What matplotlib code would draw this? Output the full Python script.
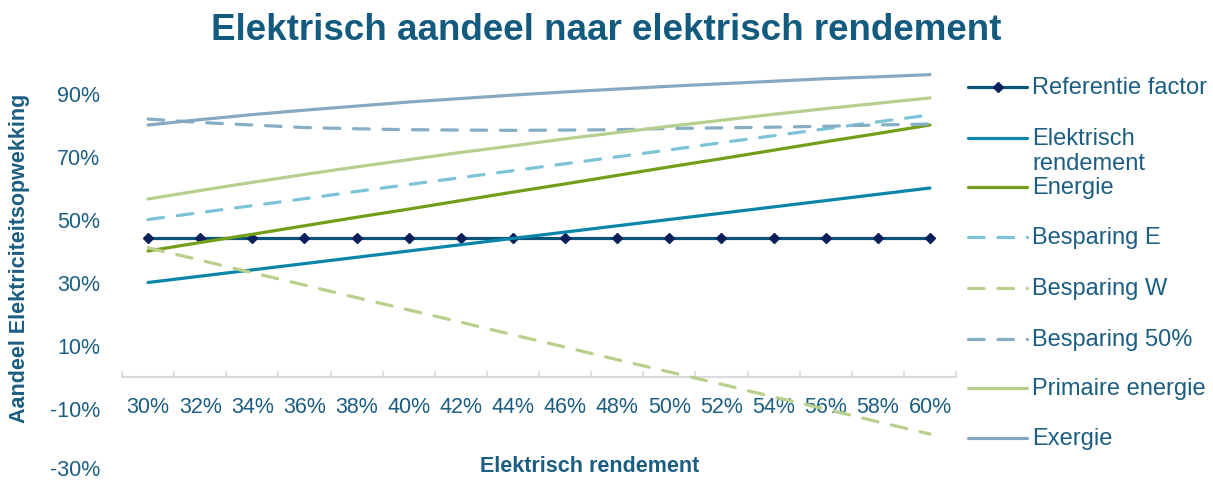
import matplotlib
matplotlib.use("Agg")
import matplotlib.pyplot as plt
import matplotlib.transforms as mtransforms
from matplotlib.lines import Line2D

# ---- data ----
categories = ["30%", "32%", "34%", "36%", "38%", "40%", "42%", "44%",
              "46%", "48%", "50%", "52%", "54%", "56%", "58%", "60%"]
referentie_factor = [44] * 16
elektrisch_rendement = [30, 32, 34, 36, 38, 40, 42, 44, 46, 48, 50, 52, 54, 56, 58, 60]
energie = [40.0, 42.7, 45.3, 48.0, 50.7, 53.3, 56.0, 58.7, 61.3, 64.0, 66.7, 69.3, 72.0, 74.7, 77.3, 80.0]
besparing_e = [50.0, 52.2, 54.4, 56.6, 58.9, 61.1, 63.3, 65.5, 67.7, 69.9, 72.1, 74.4, 76.6, 78.8, 81.0, 83.2]
besparing_w = [41.0, 37.1, 33.1, 29.2, 25.2, 21.3, 17.4, 13.4, 9.5, 5.5, 1.6, -2.3, -6.3, -10.2, -14.2, -18.1]
besparing_50 = [81.9, 80.8, 80.0, 79.2, 78.8, 78.5, 78.4, 78.3, 78.4, 78.5, 78.9, 79.1, 79.3, 79.6, 80.0, 80.3]
primaire_energie = [56.5, 59.2, 61.8, 64.3, 66.7, 69.0, 71.3, 73.4, 75.6, 77.6, 79.6, 81.5, 83.4, 85.2, 86.9, 88.6]
exergie = [80.0, 81.7, 83.3, 84.7, 86.0, 87.3, 88.4, 89.5, 90.5, 91.4, 92.3, 93.1, 93.9, 94.7, 95.3, 96.0]
yticks = [-30, -10, 10, 30, 50, 70, 90]

series = [
    ("Referentie factor", referentie_factor, "#0B5479", "-"),
    ("Elektrisch\nrendement", elektrisch_rendement, "#0A86A8", "-"),
    ("Energie", energie, "#739E1A", "-"),
    ("Besparing E", besparing_e, "#7CC3D8", "--"),
    ("Besparing W", besparing_w, "#B8D08C", "--"),
    ("Besparing 50%", besparing_50, "#85AEC5", "--"),
    ("Primaire energie", primaire_energie, "#B6CF8E", "-"),
    ("Exergie", exergie, "#86A9C1", "-"),
]

TXT = "#1B5E82"
TITLE = "#135A7F"
plt.rcParams["font.family"] = ["Liberation Sans", "DejaVu Sans"]

W, H = 1213, 481
fig = plt.figure(figsize=(W / 100, H / 100), dpi=100)
ax = fig.add_axes([122 / W, (H - 472.5) / H, (956 - 122) / W, (472.5 - 63) / H])

x = list(range(len(categories)))
DASH = (0, (4.9, 4.3))
for i, (name, vals, col, ls) in enumerate(series):
    kw = dict(color=col, lw=2.3, solid_capstyle="round", dash_capstyle="round", zorder=2 + i)
    if ls == "--":
        kw["linestyle"] = DASH
    if i == 0:
        kw.update(marker="D", markersize=5.5, markerfacecolor="#0A1F5C", markeredgecolor="#0A1F5C")
    ax.plot(x, vals, **kw)

ax.set_xlim(-0.5, len(categories) - 0.5)
ax.set_ylim(-30, 100)

for s in ["top", "right", "left"]:
    ax.spines[s].set_visible(False)
ax.spines["bottom"].set_position(("data", 0))
ax.spines["bottom"].set_color("#D9D9D9")
ax.spines["bottom"].set_linewidth(1.5)

ax.set_xticks([i - 0.5 for i in range(len(categories) + 1)])
ax.set_xticklabels([])
ax.tick_params(axis="x", which="major", direction="in", length=4, width=1.2, color="#D9D9D9")
ax.set_xticks(x, minor=True)
ax.set_xticklabels(categories, minor=True)
ax.tick_params(axis="x", which="minor", length=0, pad=13.5, labelsize=15.5, labelcolor=TXT)

ax.set_yticks(yticks)
ax.set_yticklabels([f"{v}%" for v in yticks])
ax.tick_params(axis="y", length=0, pad=15.5, labelsize=15.5, labelcolor=TXT)
for lbl in ax.get_yticklabels():
    lbl.set_verticalalignment("center_baseline")
# nudge the lowest label up slightly so it is not clipped by the figure edge
ax.get_yticklabels()[0].set_transform(
    ax.get_yticklabels()[0].get_transform()
    + mtransforms.ScaledTranslation(0, 4 / 100, fig.dpi_scale_trans))

fig.text(0.5, 1 - 31 / H, "Elektrisch aandeel naar elektrisch rendement",
         ha="center", va="center", fontsize=26.5, fontweight="bold", color=TITLE)
fig.text(590 / W, 1 - 466 / H, "Elektrisch rendement", ha="center", va="center",
         fontsize=15.5, fontweight="bold", color=TXT)
fig.text(20 / W, 1 - 258 / H, "Aandeel Elektriciteitsopwekking", ha="center", va="center",
         rotation=90, fontsize=15.5, fontweight="bold", color=TXT)

# legend (manual, Excel-like layout)
ys = [88, 139, 188, 238, 289, 340, 389, 439]
for (name, vals, col, ls), yy in zip(series, ys):
    yf = 1 - yy / H
    kw = dict(color=col, lw=2.3, solid_capstyle="round", dash_capstyle="round")
    if ls == "--":
        kw["linestyle"] = DASH
    ln = Line2D([968 / W, 1027 / W], [yf, yf], transform=fig.transFigure, **kw)
    fig.add_artist(ln)
    if name.startswith("Referentie"):
        mk = Line2D([997.5 / W], [yf], transform=fig.transFigure, marker="D", markersize=5.5,
                    markerfacecolor="#0A1F5C", markeredgecolor="#0A1F5C", linestyle="none")
        fig.add_artist(mk)
    lines = name.split("\n")
    for j, t in enumerate(lines):
        fig.text(1032 / W, 1 - (yy + 25 * j) / H, t, ha="left", va="center",
                 fontsize=17, color=TXT)

fig.savefig("out.png", dpi=100)
